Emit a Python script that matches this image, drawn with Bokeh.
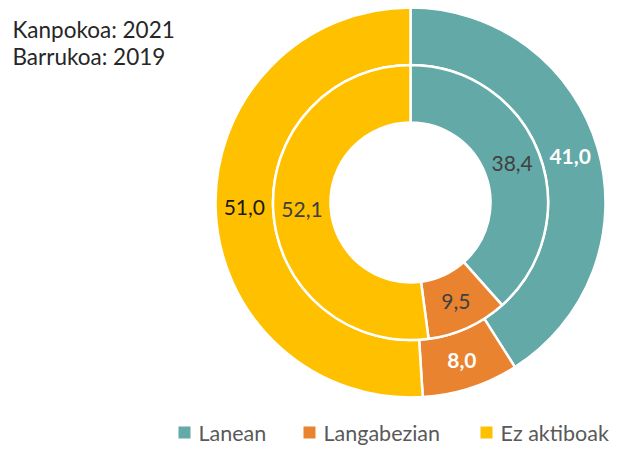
import math
from bokeh.plotting import figure
from bokeh.models import Range1d, ColumnDataSource
from bokeh.core.properties import value
from bokeh.embed import file_html
from bokeh.resources import INLINE

# ---- data ----
categories = ["Lanean", "Langabezian", "Ez aktiboak"]
outer_2021 = [41.0, 8.0, 51.0]
inner_2019 = [38.4, 9.5, 52.1]
title_lines = ["Kanpokoa: 2021", "Barrukoa: 2019"]

# ---- style ----
colors = ["#63A9A7", "#E9832F", "#FFC000"]
FONT = "Lato"
W, H = 619, 445


def Y(yi):
    return H - yi


cx, cy = 410, Y(202)
r_hole, r_mid, r_out = 80, 137.5, 195

p = figure(width=W, height=H, output_backend="svg", toolbar_location=None,
           x_range=Range1d(0, W), y_range=Range1d(0, H),
           min_border=0, tools="")
p.axis.visible = False
p.grid.visible = False
p.outline_line_color = None
p.background_fill_color = "white"


def ring(vals, r0, r1, label_colors, label_styles):
    total = sum(vals)
    starts, ends, mids = [], [], []
    acc = 0.0
    for v in vals:
        a0 = math.pi / 2 - 2 * math.pi * acc / total
        acc += v
        a1 = math.pi / 2 - 2 * math.pi * acc / total
        starts.append(a0)
        ends.append(a1)
        mids.append((a0 + a1) / 2)
    src = ColumnDataSource(dict(x=[cx] * len(vals), y=[cy] * len(vals),
                                start=starts, end=ends, color=colors))
    p.annular_wedge(x="x", y="y", inner_radius=r0, outer_radius=r1,
                    start_angle="start", end_angle="end", direction="clock",
                    fill_color="color", line_color="white", line_width=2.5,
                    source=src)
    rm = (r0 + r1) / 2
    lx = [cx + rm * math.cos(m) for m in mids]
    ly = [cy + rm * math.sin(m) for m in mids]
    labels = [f"{v:.1f}".replace(".", ",") for v in vals]
    lsrc = ColumnDataSource(dict(x=lx, y=ly, t=labels, c=label_colors,
                                 s=label_styles))
    p.text(x="x", y="y", text="t", text_color="c", text_font_style="s",
           text_font=value(FONT), text_font_size="21px", text_align="center",
           text_baseline="middle", source=lsrc)


ring(outer_2021, r_mid, r_out, ["white", "white", "#1a1a1a"],
     ["bold", "bold", "normal"])
ring(inner_2019, r_hole, r_mid, ["#404040", "#404040", "#404040"],
     ["normal", "normal", "normal"])

# title lines
p.text(x=[12, 12], y=[Y(29), Y(56)], text=title_lines, text_color="#262626",
       text_font=value(FONT), text_font_size="22.5px", text_align="left",
       text_baseline="alphabetic")

# legend
sq_x = [184, 309, 486]
tx_x = [198, 323, 500]
leg_y = Y(432)
p.rect(x=sq_x, y=[leg_y] * 3, width=12, height=12, fill_color=colors,
       line_color=None)
p.text(x=tx_x, y=[leg_y] * 3, text=categories, text_color="#595959",
       text_font=value(FONT), text_font_size="21.5px", text_align="left",
       text_baseline="middle")

open("out.html", "w").write(file_html(p, INLINE))
